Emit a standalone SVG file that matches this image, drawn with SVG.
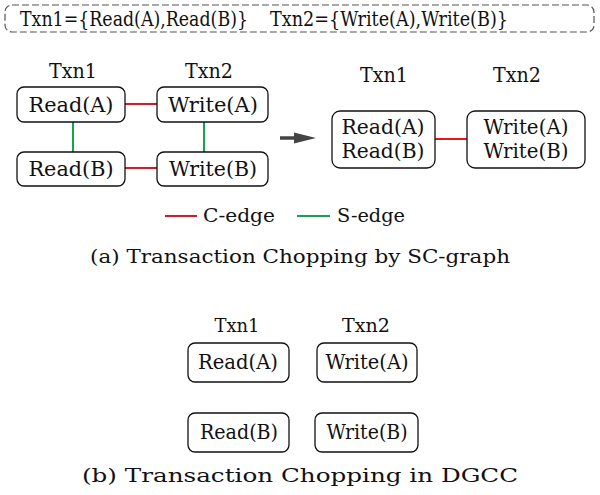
<svg xmlns="http://www.w3.org/2000/svg" width="600" height="495" viewBox="0 0 600 495">
<style>
.t{font-family:"DejaVu Serif",serif;fill:#111}
.n{fill:#fff;stroke:#111;stroke-width:1.3}
.c{stroke:#e8141b;stroke-width:2;fill:none}
.s{stroke:#12a64a;stroke-width:2;fill:none}
.cap{font-family:"DejaVu Serif",serif;fill:#111}
</style>
<rect width="600" height="495" fill="#fff"/>
<g id="header">
<rect x="5" y="5" width="589" height="27" rx="7" fill="none" stroke="#555" stroke-width="1.2" stroke-dasharray="7,3"/>
<text class="t" x="20" y="26" font-size="20.5" textLength="228" lengthAdjust="spacingAndGlyphs">Txn1={Read(A),Read(B)}</text>
<text class="t" x="270" y="26" font-size="20.5" textLength="238" lengthAdjust="spacingAndGlyphs">Txn2={Write(A),Write(B)}</text>
</g>
<g id="labels-a" class="t" font-size="20" text-anchor="middle">
<text x="73" y="78" textLength="48" lengthAdjust="spacingAndGlyphs">Txn1</text>
<text x="209" y="78" textLength="48" lengthAdjust="spacingAndGlyphs">Txn2</text>
<text x="384" y="82" textLength="48" lengthAdjust="spacingAndGlyphs">Txn1</text>
<text x="517" y="82" textLength="48" lengthAdjust="spacingAndGlyphs">Txn2</text>
</g>
<g id="connectors">
<line class="c" x1="125" y1="104" x2="157" y2="104"/>
<line class="c" x1="125" y1="168" x2="157" y2="168"/>
<line class="s" x1="73" y1="122" x2="73" y2="152"/>
<line class="s" x1="204" y1="122" x2="204" y2="152"/>
<line class="c" x1="435" y1="139" x2="467" y2="139"/>
<path d="M280 138 H297" stroke="#444" stroke-width="3.5"/>
<path d="M294 132.5 L316 138 L294 143.5 Z" fill="#444"/>
</g>
<g id="a-readA"><rect class="n" x="17" y="87" width="108" height="35" rx="7"/><text class="t" x="71" y="112" font-size="21" text-anchor="middle" textLength="85" lengthAdjust="spacingAndGlyphs">Read(A)</text></g>
<g id="a-writeA"><rect class="n" x="157" y="87" width="111" height="35" rx="7"/><text class="t" x="213" y="112" font-size="21" text-anchor="middle" textLength="90" lengthAdjust="spacingAndGlyphs">Write(A)</text></g>
<g id="a-readB"><rect class="n" x="17" y="152" width="108" height="34" rx="7"/><text class="t" x="71" y="176" font-size="21" text-anchor="middle" textLength="85" lengthAdjust="spacingAndGlyphs">Read(B)</text></g>
<g id="a-writeB"><rect class="n" x="157" y="152" width="111" height="34" rx="7"/><text class="t" x="213" y="176" font-size="21" text-anchor="middle" textLength="88" lengthAdjust="spacingAndGlyphs">Write(B)</text></g>
<g id="a-txn1"><rect class="n" x="332" y="111" width="103" height="57" rx="8"/><text class="t" x="383" y="134" font-size="20" text-anchor="middle" textLength="83" lengthAdjust="spacingAndGlyphs">Read(A)</text><text class="t" x="383" y="158" font-size="20" text-anchor="middle" textLength="83" lengthAdjust="spacingAndGlyphs">Read(B)</text></g>
<g id="a-txn2"><rect class="n" x="467" y="111" width="118" height="57" rx="8"/><text class="t" x="526" y="134" font-size="20" text-anchor="middle" textLength="85" lengthAdjust="spacingAndGlyphs">Write(A)</text><text class="t" x="526" y="158" font-size="20" text-anchor="middle" textLength="85" lengthAdjust="spacingAndGlyphs">Write(B)</text></g>
<g id="legend">
<line class="c" x1="165" y1="216" x2="197" y2="216"/>
<text class="cap" x="203" y="222" font-size="18" textLength="72" lengthAdjust="spacingAndGlyphs">C-edge</text>
<line class="s" x1="297" y1="216" x2="330" y2="216"/>
<text class="cap" x="337" y="222" font-size="18" textLength="68" lengthAdjust="spacingAndGlyphs">S-edge</text>
</g>
<text class="cap" x="90" y="263" font-size="19" textLength="420" lengthAdjust="spacingAndGlyphs">(a) Transaction Chopping by SC-graph</text>
<g id="labels-b" class="t" font-size="19" text-anchor="middle">
<text x="237" y="332" textLength="45" lengthAdjust="spacingAndGlyphs">Txn1</text>
<text x="366" y="332" textLength="48" lengthAdjust="spacingAndGlyphs">Txn2</text>
</g>
<g id="b-readA"><rect class="n" x="188" y="343" width="101" height="39" rx="7"/><text class="t" x="238" y="369" font-size="20" text-anchor="middle" textLength="80" lengthAdjust="spacingAndGlyphs">Read(A)</text></g>
<g id="b-writeA"><rect class="n" x="317" y="343" width="100" height="39" rx="7"/><text class="t" x="367" y="369" font-size="20" text-anchor="middle" textLength="83" lengthAdjust="spacingAndGlyphs">Write(A)</text></g>
<g id="b-readB"><rect class="n" x="188" y="413" width="101" height="39" rx="7"/><text class="t" x="239" y="439" font-size="20" text-anchor="middle" textLength="78" lengthAdjust="spacingAndGlyphs">Read(B)</text></g>
<g id="b-writeB"><rect class="n" x="315" y="413" width="103" height="39" rx="7"/><text class="t" x="367" y="439" font-size="20" text-anchor="middle" textLength="81" lengthAdjust="spacingAndGlyphs">Write(B)</text></g>
<text class="cap" x="82" y="482" font-size="19" textLength="436" lengthAdjust="spacingAndGlyphs">(b) Transaction Chopping in DGCC</text>
</svg>
